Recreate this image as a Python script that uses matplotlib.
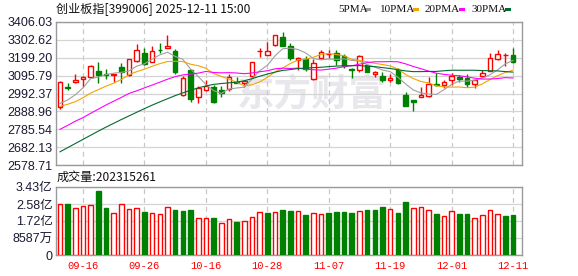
import matplotlib
matplotlib.use('Agg')
import matplotlib.pyplot as plt
from matplotlib.patches import Rectangle
import numpy as np

# ---------------- data ----------------
dates = ['09-11', '09-12', '09-15', '09-16', '09-17', '09-18', '09-19', '09-22', '09-23', '09-24',
         '09-25', '09-26', '09-29', '09-30', '10-09', '10-10', '10-13', '10-14', '10-15', '10-16',
         '10-17', '10-20', '10-21', '10-22', '10-23', '10-24', '10-27', '10-28', '10-29', '10-30',
         '10-31', '11-03', '11-04', '11-05', '11-06', '11-07', '11-10', '11-11', '11-12', '11-13',
         '11-14', '11-17', '11-18', '11-19', '11-20', '11-21', '11-24', '11-25', '11-26', '11-27',
         '11-28', '12-01', '12-02', '12-03', '12-04', '12-05', '12-08', '12-09', '12-10', '12-11']

opens = [2912, 3030, 3058, 3078, 3090, 3122, 3103, 3101, 3146, 3098,
         3180, 3226, 3173, 3246, 3258, 3240, 2982, 3128, 2970, 3015,
         3031, 3011, 3020, 3061, 3053, 3095, 3236, 3213, 3275, 3320,
         3267, 3189, 3194, 3074, 3200, 3220, 3226, 3212, 3132, 3126,
         3155, 3104, 3094, 3073, 3129, 2982, 2953, 2974, 2979, 3050,
         3039, 3069, 3086, 3082, 3046, 3091, 3124, 3194, 3214, 3215]
highs = [3063, 3055, 3108, 3092, 3156, 3175, 3132, 3108, 3167, 3192,
         3277, 3257, 3265, 3283, 3331, 3247, 3092, 3134, 3034, 3071,
         3040, 3036, 3106, 3090, 3070, 3177, 3255, 3292, 3333, 3346,
         3286, 3201, 3210, 3190, 3243, 3244, 3244, 3222, 3138, 3214,
         3158, 3124, 3118, 3103, 3140, 3002, 2957, 3030, 3086, 3109,
         3070, 3109, 3102, 3105, 3075, 3126, 3224, 3244, 3227, 3254]
lows = [2902, 3012, 3053, 3032, 3086, 3055, 3078, 3060, 3053, 3094,
        3172, 3157, 3172, 3228, 3255, 3103, 2978, 2945, 2936, 3009,
        2940, 2974, 3004, 3051, 3030, 3090, 3205, 3213, 3268, 3268,
        3186, 3130, 3124, 3073, 3196, 3196, 3155, 3141, 3084, 3114,
        3117, 3090, 3059, 3058, 3048, 2921, 2893, 2970, 2972, 3038,
        3022, 3040, 3061, 3032, 3024, 3089, 3122, 3184, 3150, 3170]
closes = [3061, 3026, 3069, 3090, 3151, 3102, 3099, 3106, 3116, 3190,
          3242, 3165, 3240, 3242, 3268, 3118, 3080, 2962, 3027, 3037,
          2941, 2998, 3086, 3056, 3064, 3175, 3240, 3239, 3331, 3269,
          3198, 3199, 3136, 3171, 3231, 3223, 3187, 3152, 3129, 3209,
          3119, 3114, 3068, 3083, 3051, 2922, 2942, 2984, 3046, 3040,
          3059, 3096, 3077, 3047, 3072, 3113, 3198, 3220, 3217, 3172]

ma5 = [2935, 2955, 2985, 3025, 3079, 3087, 3102, 3110, 3115, 3123,
       3151, 3164, 3191, 3216, 3231, 3207, 3190, 3134, 3091, 3045,
       3009, 2993, 3018, 3024, 3029, 3076, 3124, 3155, 3210, 3251,
       3255, 3247, 3227, 3195, 3187, 3192, 3190, 3193, 3184, 3180,
       3159, 3145, 3128, 3119, 3087, 3048, 3013, 2996, 2989, 2987,
       3014, 3045, 3064, 3064, 3070, 3081, 3101, 3129, 3164, 3184]
ma10 = [2918, 2930, 2945, 2968, 2995, 3015, 3035, 3052, 3074, 3101,
        3119, 3133, 3150, 3165, 3177, 3179, 3177, 3162, 3153, 3138,
        3108, 3091, 3076, 3057, 3037, 3043, 3059, 3086, 3117, 3140,
        3166, 3186, 3191, 3202, 3219, 3224, 3218, 3210, 3190, 3184,
        3176, 3167, 3160, 3152, 3134, 3103, 3079, 3062, 3054, 3037,
        3031, 3029, 3030, 3026, 3029, 3048, 3073, 3096, 3114, 3127]
ma20 = [2785, 2808, 2832, 2853, 2878, 2902, 2926, 2948, 2970, 2993,
        3008, 3025, 3041, 3058, 3075, 3090, 3100, 3105, 3110, 3120,
        3114, 3112, 3113, 3111, 3107, 3111, 3118, 3124, 3135, 3139,
        3137, 3139, 3133, 3130, 3128, 3133, 3139, 3148, 3153, 3162,
        3171, 3176, 3176, 3177, 3176, 3164, 3149, 3136, 3122, 3110,
        3103, 3098, 3095, 3089, 3081, 3076, 3076, 3079, 3084, 3082]
ma30 = [2655, 2679, 2703, 2727, 2751, 2775, 2798, 2820, 2842, 2863,
        2884, 2905, 2925, 2944, 2962, 2980, 2996, 3011, 3025, 3036,
        3045, 3050, 3054, 3058, 3066, 3078, 3092, 3105, 3116, 3126,
        3131, 3137, 3139, 3142, 3144, 3148, 3151, 3153, 3153, 3154,
        3150, 3148, 3142, 3137, 3130, 3123, 3119, 3119, 3120, 3120,
        3124, 3127, 3127, 3127, 3127, 3125, 3124, 3123, 3119, 3116]

volumes = [2.57, 2.57, 2.35, 2.50, 2.55, 3.22, 2.37, 2.10, 2.60, 2.30,
           2.35, 2.18, 2.12, 2.05, 2.40, 2.27, 2.22, 2.27, 1.85, 1.85,
           1.85, 1.60, 1.80, 1.67, 1.72, 1.90, 2.15, 2.12, 2.15, 2.27,
           2.22, 2.22, 2.02, 2.12, 2.07, 2.12, 2.18, 2.18, 2.12, 2.22,
           2.27, 2.27, 2.42, 2.32, 2.12, 2.67, 2.37, 2.42, 2.27, 2.07,
           1.97, 2.22, 2.07, 2.07, 1.87, 2.02, 2.27, 2.07, 1.97, 2.02315261]  # 亿
vol_up = [1, 0, 1, 1, 1, 0, 0, 1, 1, 1,
          1, 0, 1, 1, 1, 0, 0, 0, 1, 1,
          0, 1, 1, 0, 1, 1, 1, 0, 1, 0,
          0, 1, 0, 1, 1, 0, 0, 0, 0, 1,
          0, 0, 0, 1, 0, 0, 1, 1, 1, 0,
          1, 1, 0, 0, 1, 1, 1, 1, 0, 0]

tick_dates = ['09-16', '09-26', '10-16', '10-28', '11-07', '11-19', '12-01', '12-11']
price_ticks = [2578.71, 2682.13, 2785.54, 2888.96, 2992.37, 3095.79, 3199.20, 3302.62, 3406.03]
vol_ticks = [0, 0.8587, 1.7174, 2.5761, 3.4348]
vol_tick_labels = ['0', '8587万', '1.72亿', '2.58亿', '3.43亿']
ma_names = ['5PMA', '10PMA', '20PMA', '30PMA']

# ---------------- style ----------------
RED = '#ff0000'
GREEN = '#008000'
MA_COLORS = ['#a0a0a0', '#f5a300', '#ff00ff', '#006b2e']
GRID = '#d4d4d4'
FRAME = '#9a9a9a'
LABEL = '#1a1a33'
CJK = ['Noto Sans CJK SC']
NUM = ['Liberation Sans', 'Noto Sans CJK SC']

W, H = 578, 276
fig = plt.figure(figsize=(W / 100, H / 100), dpi=100)
fig.patch.set_facecolor('white')

def px_axes(l, t, r, b):
    return fig.add_axes([l / W, 1 - b / H, (r - l) / W, (b - t) / H])

ax = px_axes(56, 22, 522, 165)
axv = px_axes(56, 187, 522, 255)

x = np.arange(len(closes))
o = np.array(opens, float); c = np.array(closes, float)
hi = np.array(highs, float); lo = np.array(lows, float)
up = c >= o
tick_pos = [dates.index(d) for d in tick_dates]

for a in (ax, axv):
    a.set_xlim(-0.52, len(closes) + 0.17)
    a.set_xticks(tick_pos)
    a.tick_params(axis='both', length=0)
    a.grid(True, axis='y', color=GRID, linewidth=0.9, linestyle='-')
    a.grid(True, axis='x', color='#c8c8c8', linewidth=0.9, linestyle=(0, (4, 3)))
    a.set_axisbelow(True)
    for s in a.spines.values():
        s.set_color(FRAME)
        s.set_linewidth(1.0)

# watermark
ax.text(0.549, 0.49, '东方财富', transform=ax.transAxes, ha='center', va='center',
        fontsize=27, color='#e8e8ec', family=CJK, fontweight='bold', zorder=0)

# ---------------- candles ----------------
bw = 0.6
ax.vlines(x, lo, hi, colors=[RED if u else GREEN for u in up], linewidth=1.0, zorder=2)
body_bottom = np.minimum(o, c)
body_h = np.maximum(np.abs(c - o), 1.2)
ax.bar(x[up], body_h[up], bottom=body_bottom[up], width=bw, facecolor='white',
       edgecolor=RED, linewidth=1.0, zorder=3)
ax.bar(x[~up], body_h[~up], bottom=body_bottom[~up], width=bw, facecolor=GREEN,
       edgecolor=GREEN, linewidth=1.0, zorder=3)

for series, col in zip([ma5, ma10, ma20, ma30], MA_COLORS):
    ax.plot(x, series, color=col, linewidth=0.8, zorder=4)

ax.set_ylim(price_ticks[0], price_ticks[-1])
ax.set_yticks(price_ticks)
ax.set_yticklabels(['%.2f' % v for v in price_ticks], family=NUM, fontsize=9, color=LABEL)
ax.tick_params(axis='y', pad=2.5)
ax.tick_params(axis='x', labelbottom=False)

# ---------------- volume ----------------
vol = np.array(volumes)
vu = np.array(vol_up, bool)
axv.bar(x[vu], vol[vu], width=bw, facecolor='white', edgecolor=RED, linewidth=1.0, zorder=3)
axv.bar(x[~vu], vol[~vu], width=bw, facecolor=GREEN, edgecolor=GREEN, linewidth=1.0, zorder=3)
axv.set_ylim(0, vol_ticks[-1])
axv.set_yticks(vol_ticks)
axv.set_yticklabels(vol_tick_labels, family=NUM, fontsize=9, color=LABEL)
axv.tick_params(axis='y', pad=2.5)
axv.set_xticklabels(tick_dates, family=['Liberation Mono'], fontsize=7.6, color=RED)
axv.tick_params(axis='x', pad=4)

# ---------------- header texts ----------------
fig.text(56 / W, 1 - 9.5 / H, '创业板指[399006] 2025-12-11 15:00', ha='left', va='center',
         fontsize=8.7, family=CJK, color='#111111')
fig.text(57 / W, 1 - 177.5 / H, '成交量:%d' % round(volumes[-1] * 1e8), ha='left', va='center',
         fontsize=8.7, family=CJK, color='#111111')

legend_left = [338, 380, 425, 472]
marker_left = [365, 413, 459, 505]
for name, col, tl, ml in zip(ma_names, MA_COLORS, legend_left, marker_left):
    fig.text(tl / W, 1 - 9.5 / H, name, ha='left', va='center', fontsize=8.0,
             family=['Liberation Serif'], color='#111111')
    fig.patches.append(Rectangle((ml / W, 1 - 11 / H), 6 / W, 3.5 / H,
                                 transform=fig.transFigure, facecolor=col, edgecolor='none'))

fig.savefig('out.png', dpi=100, facecolor='white')
